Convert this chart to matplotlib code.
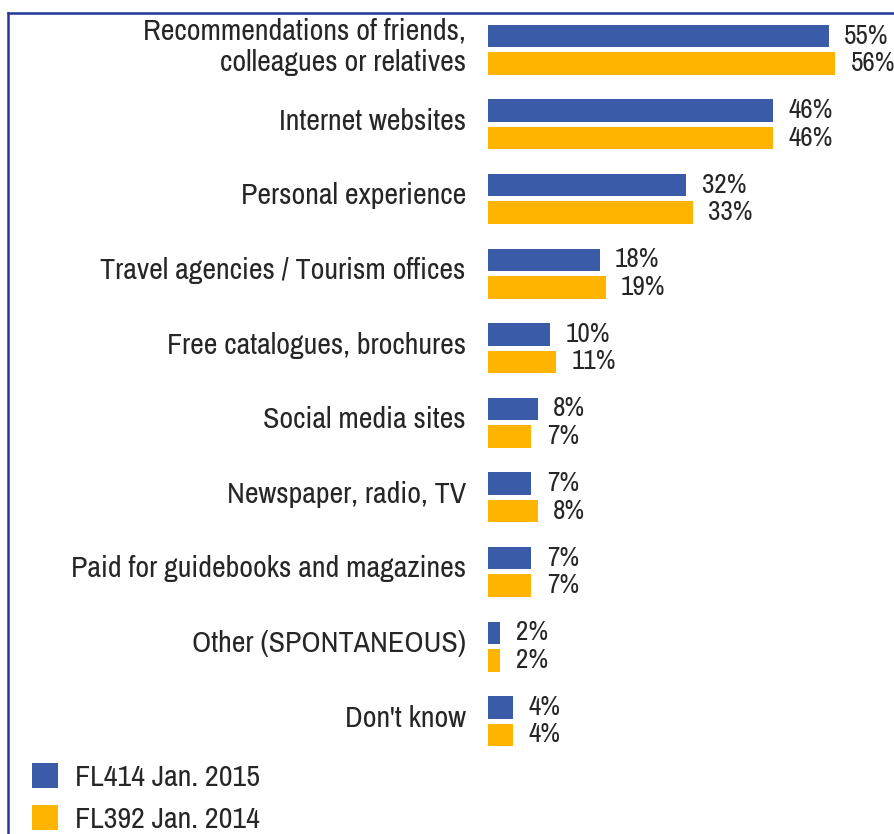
import numpy as np
import matplotlib.pyplot as plt
from matplotlib.lines import Line2D

categories = ['Recommendations of friends,\ncolleagues or relatives',
              'Internet websites',
              'Personal experience',
              'Travel agencies / Tourism offices',
              'Free catalogues, brochures',
              'Social media sites',
              'Newspaper, radio, TV',
              'Paid for guidebooks and magazines',
              'Other (SPONTANEOUS)',
              "Don't know"]
fl414_2015 = [55, 46, 32, 18, 10, 8, 7, 7, 2, 4]
fl392_2014 = [56, 46, 33, 19, 11, 7, 8, 7, 2, 4]
series_names = ['FL414 Jan. 2015', 'FL392 Jan. 2014']

blue = '#3a5ca8'
orange = '#ffb400'
txt = '#262626'
fs = 21.6     # category + legend text
fs_val = 19.5  # value labels

plt.rcParams['font.family'] = ['Archivo Narrow', 'DejaVu Sans']

W, H = 894, 834
fig = plt.figure(figsize=(W / 100, H / 100), dpi=100)
# axes spans full height, x starts where bars start
x0, x1 = 488, 860
ax = fig.add_axes([x0 / W, 0, (x1 - x0) / W, 1])
ax.set_xlim(0, 60)

step = 74.6
top = 49.75
ax.set_ylim((H - top) / step, -top / step)

y = np.arange(len(categories))
off = 13.75 / step
hgt = 22.5 / step
b1 = ax.barh(y - off, fl414_2015, height=hgt, color=blue, label=series_names[0])
b2 = ax.barh(y + off, fl392_2014, height=hgt, color=orange, label=series_names[1])

for bars, vals in ((b1, fl414_2015), (b2, fl392_2014)):
    for b, v in zip(bars, vals):
        ax.annotate(f'{v}%', (b.get_width(), b.get_y() + b.get_height() / 2),
                    xytext=(11, 0), textcoords='offset points',
                    ha='left', va='center', fontsize=fs_val, color=txt)

for yi, c in zip(y, categories):
    ax.annotate(c, (0, yi - 0.04), xytext=(-16, 0), textcoords='offset points',
                ha='right', va='center', fontsize=fs, color=txt,
                multialignment='right', linespacing=1.2, annotation_clip=False)

ax.axis('off')

leg = ax.legend(handles=[b1, b2], loc='upper left',
                bbox_to_anchor=(32 / W, 1 - 763 / H), bbox_transform=fig.transFigure,
                frameon=False, fontsize=fs, handlelength=0.87, handleheight=0.9,
                handletextpad=0.57, labelspacing=0.48, borderpad=0, borderaxespad=0)
for t in leg.get_texts():
    t.set_color(txt)

# partial frame of the original slide
fig.add_artist(Line2D([8 / W, 8 / W], [0, 1 - 13 / H], color='#23399a', lw=1.8))
fig.add_artist(Line2D([8 / W, 1], [1 - 13 / H, 1 - 13 / H], color='#23399a', lw=1.8))

fig.savefig('out.png', dpi=100)
